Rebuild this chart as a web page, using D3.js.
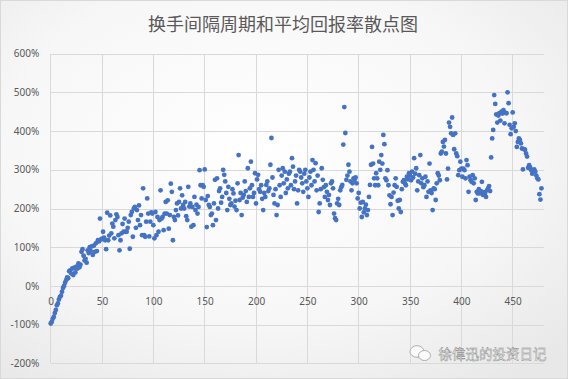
<!DOCTYPE html>
<html><head><meta charset="utf-8">
<script src="https://cdn.jsdelivr.net/npm/d3@7"></script>
<style>html,body{margin:0;padding:0;background:#fff;}svg{display:block;}</style>
</head><body>
<svg id="c" width="568" height="379"></svg>
<script>
const title = "换手间隔周期和平均回报率散点图";
const watermark = "徐偉迅的投资日记";
const xTicks = [0,50,100,150,200,250,300,350,400,450];
const yTicks = [-200,-100,0,100,200,300,400,500,600];
// average return (%) for holding period 0,1,2,...
const returns = [
-97,-93,-85,-80,-70,-62,-50,-45,-35,-28,
-25,-15,-5,0,8,15,22,20,38,40,
32,45,28,47,35,50,45,58,48,55,
88,95,78,66,70,60,92,85,100,90,
102,80,104,88,110,90,118,115,174,120,
122,140,125,118,95,189,118,130,182,136,
161,153,123,170,185,178,131,92,118,136,
160,140,174,140,140,150,166,96,183,191,
127,200,204,150,196,170,208,157,183,131,
252,131,127,166,226,187,128,166,190,187,
157,123,191,131,178,140,170,247,174,178,
144,187,217,187,221,148,183,264,243,118,
178,170,196,213,182,217,252,200,234,209,
200,217,180,170,256,205,213,153,204,157,
230,196,210,187,204,299,260,226,260,256,
301,222,152,232,209,204,183,187,157,213,
274,170,278,200,245,252,215,230,300,287,
270,240,196,256,225,209,213,250,239,205,
220,196,265,338,222,240,183,228,235,270,
245,217,304,230,252,321,260,230,240,291,
213,275,287,250,243,260,225,196,240,230,
261,270,245,252,313,382,280,235,213,250,
183,209,300,260,230,285,304,265,295,240,
275,252,290,295,260,330,308,250,270,285,
213,247,300,295,280,265,243,290,300,270,
252,230,280,295,260,325,300,270,317,247,
285,191,213,250,304,274,255,230,260,243,
222,235,209,265,270,252,187,175,170,213,
225,209,247,255,261,365,462,395,274,285,
313,295,270,247,265,278,274,280,265,226,
240,200,215,178,217,190,200,210,183,196,
230,261,313,359,316,278,260,291,278,260,
321,300,338,316,390,366,278,273,299,260,
234,211,230,183,241,260,278,256,220,200,
222,191,250,269,273,265,260,282,275,291,
285,273,295,280,330,290,304,247,270,286,
338,265,278,255,260,282,230,270,243,316,
247,240,196,252,250,222,265,291,285,273,
342,347,372,360,377,342,275,303,422,411,
394,435,390,353,394,342,335,286,299,321,
303,282,303,299,278,325,312,243,282,273,
269,286,265,278,222,243,239,250,239,245,
269,235,242,239,230,247,252,258,245,332,
381,403,493,470,443,422,440,446,427,450,
445,454,420,447,446,500,472,416,392,407,
448,411,420,400,359,372,381,377,368,355,
301,353,352,342,334,305,312,306,299,290,
296,301,295,285,278,275,237,223,252
];
const periods = returns.map((d,i)=>i);

const svg = d3.select("#c");
const W = 568, H = 379;
const defs = svg.append("defs");
const rg = defs.append("radialGradient").attr("id","bg").attr("cx","45%").attr("cy","40%").attr("r","75%");
rg.append("stop").attr("offset","0%").attr("stop-color","#ffffff");
rg.append("stop").attr("offset","60%").attr("stop-color","#f7f7f7");
rg.append("stop").attr("offset","100%").attr("stop-color","#e8e8e8");
svg.append("rect").attr("x",0.5).attr("y",0.5).attr("width",W-1).attr("height",H-1)
  .attr("fill","url(#bg)").attr("stroke","#d9d9d9");

const L = 50.7, R = 543.5, T = 53.6, B = 363.4;
const x = d3.scaleLinear().domain([0,480]).range([L,R]);
const y = d3.scaleLinear().domain([-200,600]).range([B,T]);
const font = "'Noto Sans', 'Liberation Sans', sans-serif";

// vertical gridlines
svg.append("g").selectAll("line").data(xTicks).join("line")
  .attr("x1",d=>x(d)).attr("x2",d=>x(d)).attr("y1",T).attr("y2",B)
  .attr("stroke","#d9d9d9").attr("stroke-width",1).attr("shape-rendering","crispEdges");

// y axis with horizontal gridlines
const ya = svg.append("g").attr("transform",`translate(${L},0)`)
  .call(d3.axisLeft(y).tickValues(yTicks).tickSize(-(R-L)).tickPadding(11.4).tickFormat(d=>d+"%"));
ya.select(".domain").remove();
ya.selectAll("line").attr("stroke","#d9d9d9").attr("shape-rendering","crispEdges");
ya.selectAll("text").attr("fill","#595959").style("font-family",font).style("font-size","10px");

// x axis labels on 0% line
const xa = svg.append("g").attr("transform",`translate(0,${y(0)})`)
  .call(d3.axisBottom(x).tickValues(xTicks).tickSize(0).tickPadding(12.2).tickFormat(d3.format("d")));
xa.select(".domain").remove();
xa.selectAll("text").attr("fill","#595959").style("font-family",font).style("font-size","10px");

// points
svg.append("g").selectAll("circle").data(returns).join("circle")
  .attr("cx",(d,i)=>x(periods[i])).attr("cy",d=>y(d)).attr("r",2.4)
  .attr("fill","#4472C4");

// title
svg.append("text").attr("x",283).attr("y",30.5).attr("text-anchor","middle")
  .attr("fill","#595959").style("font-family","'Noto Sans CJK SC', sans-serif").style("font-size","18px")
  .text(title);

// watermark
const wm = svg.append("g");
wm.append("ellipse").attr("cx",417).attr("cy",351.5).attr("rx",7).attr("ry",5.8)
  .attr("fill","#fafafa").attr("stroke","#9a9a9a").attr("stroke-width",0.8);
wm.append("ellipse").attr("cx",424.5).attr("cy",355.5).attr("rx",6).attr("ry",5)
  .attr("fill","#fafafa").attr("stroke","#9a9a9a").attr("stroke-width",0.8);
wm.append("text").attr("x",438.5).attr("y",359)
  .attr("fill","#fafafa").attr("stroke","#8a8a8a").attr("stroke-width",0.45)
  .style("font-family","'Noto Sans CJK SC', sans-serif").style("font-size","13.5px")
  .text(watermark);
</script>
</body></html>
